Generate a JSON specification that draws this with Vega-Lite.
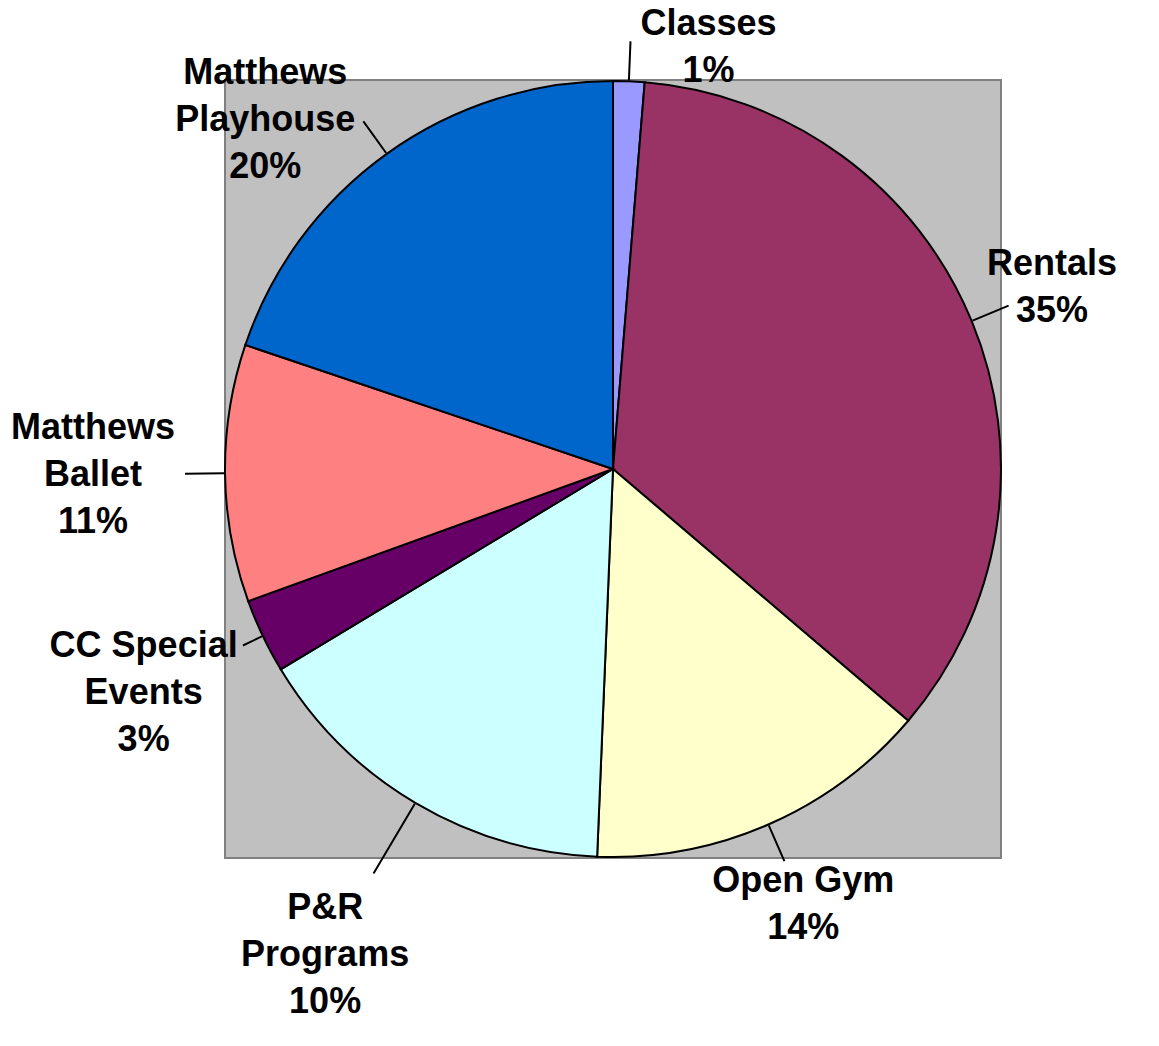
{
  "$schema": "https://vega.github.io/schema/vega-lite/v6.json",
  "width": 776,
  "height": 778,
  "autosize": {"type": "none"},
  "padding": {"left": 225, "top": 80, "right": 158, "bottom": 188},
  "background": "white",
  "view": {"fill": "#C0C0C0", "stroke": "#808080", "strokeWidth": 2},
  "data": {
    "values": [
      {"i": 1, "category": "Classes", "share": 1.3, "label": "Classes\n1%"},
      {"i": 2, "category": "Rentals", "share": 34.9, "label": "Rentals\n35%"},
      {"i": 3, "category": "Open Gym", "share": 14.4, "label": "Open Gym\n14%"},
      {"i": 4, "category": "P&R Programs", "share": 15.7, "label": "P&R\nPrograms\n10%"},
      {"i": 5, "category": "CC Special Events", "share": 3.1, "label": "CC Special\nEvents\n3%"},
      {"i": 6, "category": "Matthews Ballet", "share": 10.7, "label": "Matthews\nBallet\n11%"},
      {"i": 7, "category": "Matthews Playhouse", "share": 19.8, "label": "Matthews\nPlayhouse\n20%"}
    ]
  },
  "encoding": {
    "theta": {"field": "share", "type": "quantitative", "stack": true},
    "order": {"field": "i", "type": "quantitative"}
  },
  "layer": [
    {
      "mark": {"type": "arc", "outerRadius": 388, "stroke": "black", "strokeWidth": 2},
      "encoding": {
        "color": {
          "field": "category",
          "type": "nominal",
          "scale": {
            "domain": ["Classes", "Rentals", "Open Gym", "P&R Programs", "CC Special Events", "Matthews Ballet", "Matthews Playhouse"],
            "range": ["#9999FF", "#993366", "#FFFFCC", "#CCFFFF", "#660066", "#FF8080", "#0066CC"]
          },
          "legend": null
        }
      }
    },
    {
      "mark": {"type": "arc", "innerRadius": 389, "outerRadius": 428, "padAngle": 3, "filled": false, "stroke": "black", "strokeWidth": 2},
      "encoding": {"strokeOpacity": {"condition": {"test": "datum.i == 4 || datum.i == 5", "value": 0}, "value": 1}}
    },
    {
      "mark": {"type": "arc", "innerRadius": 389, "outerRadius": 410, "padAngle": 3, "filled": false, "stroke": "black", "strokeWidth": 2},
      "encoding": {"strokeOpacity": {"condition": {"test": "datum.i == 5", "value": 1}, "value": 0}}
    },
    {
      "mark": {"type": "arc", "innerRadius": 389, "outerRadius": 470, "padAngle": 3, "filled": false, "stroke": "black", "strokeWidth": 2},
      "encoding": {"strokeOpacity": {"condition": {"test": "datum.i == 4", "value": 1}, "value": 0}}
    },
    {
      "mark": {"type": "text", "radius": 475, "dy": -23.5, "font": "Liberation Sans", "fontWeight": "bold", "fontSize": 36, "lineBreak": "\n", "lineHeight": 47, "align": "center", "baseline": "middle", "color": "black"},
      "encoding": {
        "text": {"condition": {"test": "datum.i != 2 && datum.i != 3", "value": ""}, "field": "label", "type": "nominal"}
      }
    },
    {
      "mark": {"type": "text", "radius": 430, "dx": 78, "dy": -15, "font": "Liberation Sans", "fontWeight": "bold", "fontSize": 36, "lineBreak": "\n", "lineHeight": 47, "align": "center", "baseline": "middle", "color": "black"},
      "encoding": {
        "text": {"condition": {"test": "datum.i != 1", "value": ""}, "field": "label", "type": "nominal"}
      }
    },
    {
      "mark": {"type": "text", "radius": 520, "dy": -47, "font": "Liberation Sans", "fontWeight": "bold", "fontSize": 36, "lineBreak": "\n", "lineHeight": 47, "align": "center", "baseline": "middle", "color": "black"},
      "encoding": {
        "text": {"condition": {"test": "datum.i != 5 && datum.i != 6", "value": ""}, "field": "label", "type": "nominal"}
      }
    },
    {
      "mark": {"type": "text", "radius": 565, "dy": -47, "font": "Liberation Sans", "fontWeight": "bold", "fontSize": 36, "lineBreak": "\n", "lineHeight": 47, "align": "center", "baseline": "middle", "color": "black"},
      "encoding": {
        "text": {"condition": {"test": "datum.i != 4", "value": ""}, "field": "label", "type": "nominal"}
      }
    },
    {
      "mark": {"type": "text", "radius": 430, "dx": -97, "dy": -47, "font": "Liberation Sans", "fontWeight": "bold", "fontSize": 36, "lineBreak": "\n", "lineHeight": 47, "align": "center", "baseline": "middle", "color": "black"},
      "encoding": {
        "text": {"condition": {"test": "datum.i != 7", "value": ""}, "field": "label", "type": "nominal"}
      }
    }
  ]
}
